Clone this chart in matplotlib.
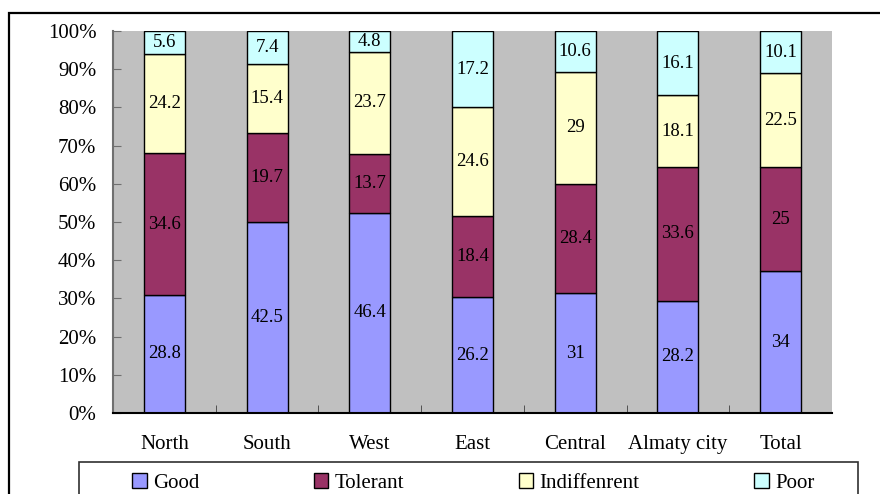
import numpy as np
import matplotlib
matplotlib.use("Agg")
import matplotlib.pyplot as plt
from matplotlib.patches import Rectangle, Patch
from matplotlib.ticker import PercentFormatter

plt.rcParams['font.family'] = ['Liberation Serif', 'DejaVu Serif']

regions = ['North', 'South', 'West', 'East', 'Central', 'Almaty city', 'Total']
good = [28.8, 42.5, 46.4, 26.2, 31, 28.2, 34]
tolerant = [34.6, 19.7, 13.7, 18.4, 28.4, 33.6, 25]
indifferent = [24.2, 15.4, 23.7, 24.6, 29, 18.1, 22.5]
poor = [5.6, 7.4, 4.8, 17.2, 10.6, 16.1, 10.1]

series = [('Good', good, '#9999FF'),
          ('Tolerant', tolerant, '#993366'),
          ('Indiffenrent', indifferent, '#FFFFCC'),
          ('Poor', poor, '#CCFFFF')]

W, H = 880, 494
fig = plt.figure(figsize=(W / 100, H / 100), dpi=100)
ax = fig.add_axes([113 / W, (H - 413) / H, 719 / W, 382 / H])
ax.set_facecolor('#C0C0C0')

x = np.arange(len(regions))
totals = np.sum([s[1] for s in series], axis=0)
bottom = np.zeros(len(regions))
for name, vals, col in series:
    share = np.array(vals) / totals
    ax.bar(x, share, 0.4, bottom=bottom, color=col, edgecolor='black', linewidth=1.0)
    for xi, b, h, v in zip(x, bottom, share, vals):
        ax.text(xi, b + h / 2, f'{v:g}', ha='center', va='center', fontsize=13.5)
    bottom += share

ax.set_xlim(-0.5, len(regions) - 0.5)
ax.set_ylim(0, 1)
ax.set_yticks(np.arange(0, 1.01, 0.1))
ax.yaxis.set_major_formatter(PercentFormatter(1.0, decimals=0))
ax.set_xticks(x)
ax.set_xticklabels(regions)
ax.set_xticks(np.arange(0.5, len(regions) - 1, 1), minor=True)
ax.tick_params(axis='x', which='major', length=0, pad=16, labelsize=15)
ax.tick_params(axis='x', which='minor', direction='in', length=6, color='#404040')
ax.tick_params(axis='y', direction='in', length=6, color='#707070', pad=12, labelsize=15)

for side in ['top', 'right']:
    ax.spines[side].set_visible(False)
ax.spines['left'].set_color('#707070')
ax.spines['left'].set_linewidth(1.5)
ax.spines['bottom'].set_color('black')
ax.spines['bottom'].set_linewidth(1.5)

# outer chart frame (runs off the right and bottom of the image)
fig.patches.append(Rectangle((8.5 / W, -0.2), 1.2, 1.2 - 13 / H, transform=fig.transFigure,
                             fill=False, edgecolor='black', linewidth=1.6, clip_on=False))
# legend frame
fig.patches.append(Rectangle((79 / W, -0.2), (858 - 79) / W, 0.2 + (H - 462) / H,
                             transform=fig.transFigure, fill=False, edgecolor='#303030',
                             linewidth=1.2, clip_on=False))

handles = [Patch(facecolor=c, edgecolor='black', linewidth=1.0, label=n) for n, _, c in series]
fig.legend(handles=handles, loc='center left', bbox_to_anchor=(132 / W, (H - 483) / H),
           ncol=4, frameon=False, fontsize=15, handlelength=0.7, handleheight=0.7,
           handletextpad=0.3, columnspacing=5.5, borderpad=0, borderaxespad=0)

fig.savefig('out.png', dpi=100)
